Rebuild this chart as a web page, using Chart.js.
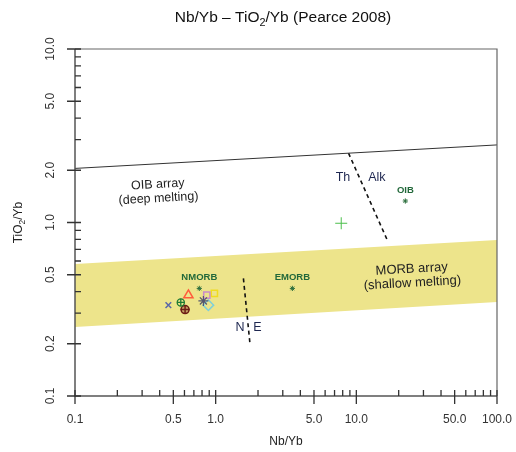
<!DOCTYPE html>
<html><head><meta charset="utf-8">
<script src="https://cdn.jsdelivr.net/npm/chart.js@4/dist/chart.umd.min.js"></script>
<style>html,body{margin:0;padding:0;background:#fff}canvas{display:block}</style>
</head><body>
<canvas id="c" width="516" height="452"></canvas>
<script>
// ---- data ----
const xMajorTicks = [0.1, 0.5, 1, 5, 10, 50, 100];
const xMajorLabels = ['0.1', '0.5', '1.0', '5.0', '10.0', '50.0', '100.0'];
const xMinorTicks = [0.2,0.3,0.4,0.6,0.7,0.8,0.9,2,3,4,6,7,8,9,20,30,40,60,70,80,90];
const yMajorTicks = [0.1, 0.2, 0.5, 1, 2, 5, 10];
const yMajorLabels = ['0.1', '0.2', '0.5', '1.0', '2.0', '5.0', '10.0'];
const yMinorTicks = [0.3,0.4,0.6,0.7,0.8,0.9,3,4,6,7,8,9];

const bandX = [0.1, 100];
const bandUpper = [0.576, 0.792];
const bandLower = [0.25, 0.348];
const oibLineX = [0.1, 100];
const oibLineY = [2.05, 2.80];
const thAlkX = [8.8, 16.5];
const thAlkY = [2.51, 0.80];
const neX = [1.575, 1.758];
const neY = [0.476, 0.196];

const refNames = ['NMORB', 'EMORB', 'OIB'];
const refNbYb = [0.765, 3.51, 22.3];
const refTiYb = [0.417, 0.417, 1.33];

const sampleNames = ['s1','s2','s3','s4','s5','s6','s7','s8','s9'];
const sampleNbYb = [0.461, 0.565, 0.640, 0.606, 0.818, 0.865, 0.979, 0.887, 7.81];
const sampleTiYb = [0.334, 0.346, 0.381, 0.315, 0.353, 0.381, 0.390, 0.334, 0.99];

// ---- build datasets ----
const pts = (xs, ys) => xs.map((x, i) => ({x, y: ys[i]}));
const sp = i => [{x: sampleNbYb[i], y: sampleTiYb[i]}];
function mk(i, style, r, color, bw, bg) {
  return {data: sp(i), pointStyle: style, pointRadius: r, borderColor: color,
    backgroundColor: bg || 'rgba(0,0,0,0)', pointBorderWidth: bw, borderWidth: bw, order: 1};
}
const lineDs = (data, color, w, dash) => ({data, showLine: true, borderColor: color,
  borderWidth: w, borderDash: dash || [], pointRadius: 0, fill: false, order: 5});

const datasets = [
  {data: pts(bandX, bandUpper), showLine: true, fill: '+1', backgroundColor: '#ede48b',
    borderWidth: 0, borderColor: 'rgba(0,0,0,0)', pointRadius: 0, order: 10},
  {data: pts(bandX, bandLower), showLine: true, fill: false,
    borderWidth: 0, borderColor: 'rgba(0,0,0,0)', pointRadius: 0, order: 10},
  lineDs(pts(oibLineX, oibLineY), '#333', 1),
  lineDs(pts(thAlkX, thAlkY), '#111', 1.6, [4, 3.5]),
  lineDs(pts(neX, neY), '#111', 1.6, [4, 3.5]),
  {data: pts(refNbYb, refTiYb), pointStyle: 'star', pointRadius: 2.6, borderColor: '#2b6e3c',
    pointBorderWidth: 1, backgroundColor: 'rgba(0,0,0,0)', order: 1},
  mk(0, 'crossRot', 4, '#5a67a8', 1.5),
  mk(1, 'circle', 3.6, '#1e7b33', 1.3),
  mk(1, 'cross', 3.6, '#1e7b33', 1.3),
  mk(2, 'triangle', 5.3, '#ff5b3c', 1.5),
  mk(3, 'circle', 4, '#6b1a14', 1.5, 'rgba(120,40,30,0.35)'),
  mk(3, 'cross', 4.5, '#6b1a14', 1.5),
  mk(4, 'star', 5, '#55576f', 1.2),
  mk(5, 'rect', 4.4, '#c98bc9', 1.5),
  mk(6, 'rect', 4.4, '#f0dc22', 1.5),
  mk(7, 'rectRot', 5.3, '#80d0d8', 1.5),
  mk(8, 'cross', 6, '#4cbf4c', 1)
];

const AXC = '#555';
const plugin = {
  id: 'deco',
  afterDraw(chart) {
    const {ctx, scales: {x, y}} = chart;
    const L = x.left, R = x.right, T = y.top, B = y.bottom;
    ctx.save();
    // frame top/right
    ctx.strokeStyle = '#666'; ctx.lineWidth = 1.2;
    ctx.beginPath(); ctx.moveTo(L, T); ctx.lineTo(R, T); ctx.lineTo(R, B); ctx.stroke();
    // axes
    ctx.strokeStyle = AXC; ctx.lineWidth = 1.5;
    ctx.beginPath(); ctx.moveTo(L, T); ctx.lineTo(L, B); ctx.lineTo(R, B); ctx.stroke();
    ctx.lineWidth = 1.3; ctx.strokeStyle = '#333';
    ctx.beginPath();
    xMajorTicks.forEach(v => { const p = x.getPixelForValue(v); ctx.moveTo(p, B - 6); ctx.lineTo(p, B + 8); });
    xMinorTicks.forEach(v => { const p = x.getPixelForValue(v); ctx.moveTo(p, B - 6); ctx.lineTo(p, B); });
    yMajorTicks.forEach(v => { const p = y.getPixelForValue(v); ctx.moveTo(L - 8, p); ctx.lineTo(L + 6, p); });
    yMinorTicks.forEach(v => { const p = y.getPixelForValue(v); ctx.moveTo(L, p); ctx.lineTo(L + 6, p); });
    ctx.stroke();
    // tick labels
    ctx.fillStyle = '#333';
    ctx.font = '12px "Liberation Sans", Arial, sans-serif';
    ctx.textAlign = 'center'; ctx.textBaseline = 'alphabetic';
    xMajorTicks.forEach((v, i) => ctx.fillText(xMajorLabels[i], x.getPixelForValue(v), B + 27));
    yMajorTicks.forEach((v, i) => {
      const p = y.getPixelForValue(v);
      ctx.save(); ctx.translate(L - 21, p); ctx.rotate(-Math.PI / 2);
      ctx.fillText(yMajorLabels[i], 0, 0); ctx.restore();
    });
    // axis titles
    ctx.fillStyle = '#222';
    ctx.fillText('Nb/Yb', (L + R) / 2, B + 49);
    ctx.save(); ctx.translate(22, (T + B) / 2); ctx.rotate(-Math.PI / 2);
    drawSub(ctx, ['TiO', '2', '/Yb'], 0, 0, 12); ctx.restore();
    // title
    ctx.fillStyle = '#111';
    drawSub(ctx, ['Nb/Yb \u2013 TiO', '2', '/Yb (Pearce 2008)'], 283, 22, 15.5);
    // field labels
    const ang = -3.2 * Math.PI / 180;
    const block = (lines, vx, vy, size, color) => {
      ctx.save(); ctx.translate(x.getPixelForValue(vx), y.getPixelForValue(vy)); ctx.rotate(ang);
      ctx.font = size + 'px "Liberation Sans", Arial, sans-serif'; ctx.fillStyle = color;
      ctx.textAlign = 'center'; ctx.textBaseline = 'middle';
      lines.forEach((t, i) => ctx.fillText(t, 0, (i - (lines.length - 1) / 2) * 14));
      ctx.restore();
    };
    block(['OIB array', '(deep melting)'], 0.39, 1.51, 12.5, '#222');
    block(['MORB array', '(shallow melting)'], 24.9, 0.491, 13, '#222');
    const txt = (t, vx, vy, font, color, dy) => {
      ctx.font = font; ctx.fillStyle = color; ctx.textAlign = 'center'; ctx.textBaseline = 'middle';
      ctx.fillText(t, x.getPixelForValue(vx), y.getPixelForValue(vy) + (dy || 0));
    };
    const tf = '12.5px "Liberation Sans", Arial, sans-serif';
    txt('Th', 8.03, 1.82, tf, '#1e2750');
    txt('Alk', 14.0, 1.82, tf, '#1e2750');
    txt('N', 1.49, 0.248, tf, '#1e2750');
    txt('E', 1.98, 0.248, tf, '#1e2750');
    refNames.forEach((n, i) => txt(n, refNbYb[i], refTiYb[i], 'bold 9.5px "Liberation Sans", Arial, sans-serif', '#22683a', -11));
    ctx.restore();
  }
};
function drawSub(ctx, parts, cx, by, size) {
  const f = size + 'px "Liberation Sans", Arial, sans-serif';
  const fs = (size * 0.7) + 'px "Liberation Sans", Arial, sans-serif';
  ctx.font = f; const w0 = ctx.measureText(parts[0]).width, w2 = ctx.measureText(parts[2]).width;
  ctx.font = fs; const w1 = ctx.measureText(parts[1]).width;
  let xx = cx - (w0 + w1 + w2) / 2;
  ctx.textAlign = 'left'; ctx.textBaseline = 'alphabetic';
  ctx.font = f; ctx.fillText(parts[0], xx, by); xx += w0;
  ctx.font = fs; ctx.fillText(parts[1], xx, by + size * 0.25); xx += w1;
  ctx.font = f; ctx.fillText(parts[2], xx, by);
}

new Chart(document.getElementById('c'), {
  type: 'scatter',
  data: {datasets},
  options: {
    responsive: false, animation: false, events: [],
    layout: {padding: {top: 49, right: 19, left: 0, bottom: 0}},
    plugins: {legend: {display: false}, tooltip: {enabled: false}},
    scales: {
      x: {type: 'logarithmic', min: 0.1, max: 100, ticks: {display: false},
        grid: {display: false}, border: {display: false}, afterFit(s) { s.height = 56; }},
      y: {type: 'logarithmic', min: 0.1, max: 10, ticks: {display: false},
        grid: {display: false}, border: {display: false}, afterFit(s) { s.width = 75; }}
    }
  },
  plugins: [plugin]
});
</script>
</body></html>
